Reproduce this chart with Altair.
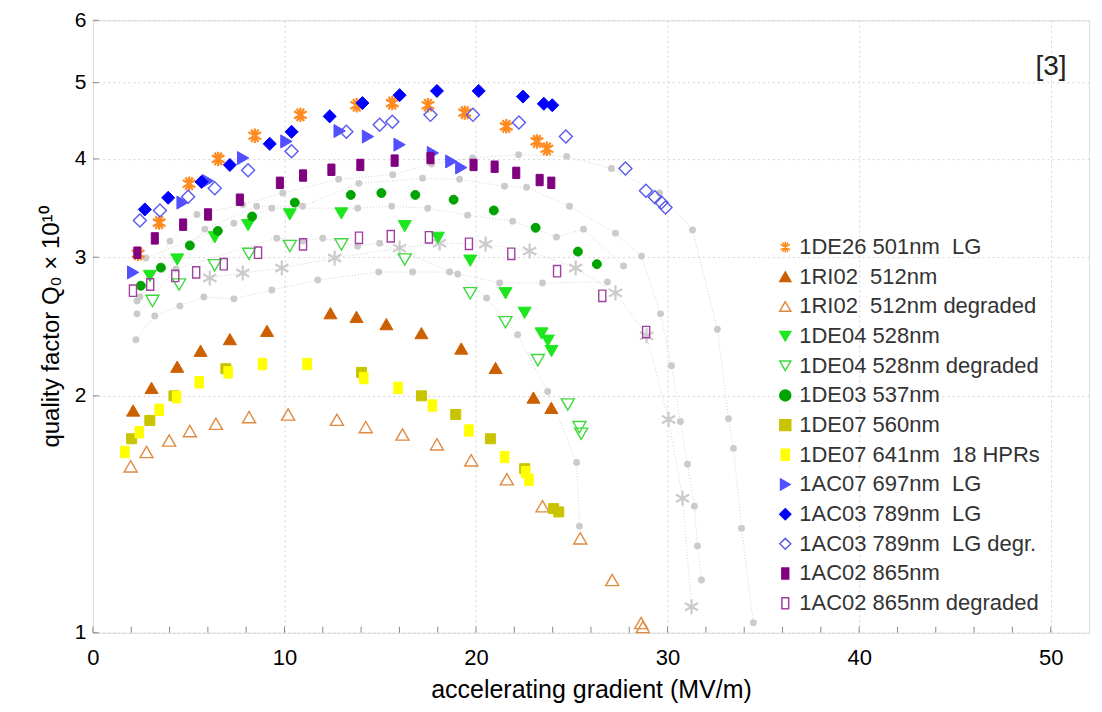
import altair as alt
import pandas as pd

NB = "\u00a0"
# ---------------- data ----------------
series_names = [
    "1DE26 501nm " + NB + "LG",
    "1RI02 " + NB + "512nm",
    "1RI02 " + NB + "512nm degraded",
    "1DE04 528nm",
    "1DE04 528nm degraded",
    "1DE03 537nm",
    "1DE07 560nm",
    "1DE07 641nm " + NB + "18 HPRs",
    "1AC07 697nm " + NB + "LG",
    "1AC03 789nm " + NB + "LG",
    "1AC03 789nm " + NB + "LG degr.",
    "1AC02 865nm",
    "1AC02 865nm degraded",
]

de26_x = [2.36, 3.46, 5.02, 6.54, 8.45, 10.83, 13.77, 15.63, 17.49, 19.41, 21.58, 23.18, 23.70]
de26_y = [3.03, 3.32, 3.72, 4.00, 4.28, 4.55, 4.68, 4.71, 4.68, 4.58, 4.40, 4.21, 4.12]

ri02_x = [2.10, 3.06, 4.40, 5.62, 7.15, 9.09, 12.40, 13.76, 15.32, 17.15, 19.23, 21.02, 23.00, 23.93]
ri02_y = [1.916, 2.047, 2.178, 2.282, 2.361, 2.419, 2.547, 2.52, 2.467, 2.403, 2.297, 2.170, 1.99, 1.931]

ri02d_x = [1.97, 2.80, 3.98, 5.06, 6.42, 8.15, 10.19, 12.74, 14.24, 16.16, 17.96, 19.75, 21.61, 23.47, 25.44, 27.11, 28.62, 28.71]
ri02d_y = [1.627, 1.697, 1.755, 1.804, 1.843, 1.879, 1.894, 1.865, 1.825, 1.786, 1.735, 1.656, 1.567, 1.448, 1.318, 1.167, 1.029, 1.017]

de04_x = [2.97, 4.40, 6.36, 8.10, 10.28, 12.97, 16.28, 18.01, 19.70, 21.54, 22.54, 23.42, 23.75, 23.94]
de04_y = [2.84, 2.98, 3.18, 3.295, 3.40, 3.41, 3.285, 3.175, 2.97, 2.70, 2.55, 2.40, 2.35, 2.28]

de04d_x = [3.11, 4.50, 6.36, 8.15, 10.28, 12.97, 16.28, 19.70, 21.54, 23.23, 24.79, 25.40, 25.49]
de04d_y = [2.64, 2.77, 2.93, 3.03, 3.10, 3.115, 2.98, 2.70, 2.48, 2.22, 1.95, 1.825, 1.79]

de03_x = [2.50, 3.55, 5.06, 6.52, 8.31, 10.54, 13.46, 15.06, 16.83, 18.83, 20.93, 23.11, 25.32, 26.31]
de03_y = [2.76, 2.91, 3.105, 3.24, 3.38, 3.52, 3.60, 3.62, 3.60, 3.55, 3.44, 3.27, 3.05, 2.94]

de07a_x = [2.02, 2.97, 4.23, 6.94, 14.02, 17.15, 18.94, 20.75, 22.54, 24.05, 24.32]
de07a_y = [1.764, 1.861, 2.00, 2.165, 2.142, 2.00, 1.894, 1.764, 1.616, 1.438, 1.424]

de07b_x = [1.67, 2.42, 3.46, 4.37, 5.55, 7.06, 8.85, 11.18, 14.14, 15.93, 17.72, 19.63, 21.49, 22.59, 22.76]
de07b_y = [1.697, 1.798, 1.920, 1.992, 2.081, 2.142, 2.195, 2.195, 2.107, 2.047, 1.944, 1.807, 1.672, 1.600, 1.565]

ac07_x = [2.10, 4.68, 6.01, 7.84, 10.10, 12.88, 14.36, 16.01, 17.75, 18.71, 19.23]
ac07_y = [2.87, 3.52, 3.75, 4.01, 4.21, 4.34, 4.27, 4.17, 4.07, 3.97, 3.90]

ac03_x = [2.71, 3.93, 5.67, 7.15, 9.23, 10.37, 12.36, 14.07, 16.01, 17.96, 20.14, 22.45, 23.54, 23.98]
ac03_y = [3.45, 3.57, 3.74, 3.93, 4.18, 4.33, 4.53, 4.71, 4.82, 4.88, 4.88, 4.80, 4.70, 4.68]

ac03d_x = [2.45, 3.50, 4.97, 6.36, 8.10, 10.37, 13.23, 14.97, 15.63, 17.62, 19.84, 22.24, 24.69, 27.80, 28.87, 29.34, 29.68, 29.89]
ac03d_y = [3.34, 3.44, 3.58, 3.67, 3.87, 4.09, 4.33, 4.42, 4.46, 4.55, 4.55, 4.45, 4.27, 3.89, 3.645, 3.575, 3.52, 3.47]

ac02_x = [2.32, 3.23, 4.71, 6.01, 7.67, 9.76, 10.97, 12.45, 13.96, 15.75, 17.62, 19.87, 20.97, 22.10, 23.32, 23.93]
ac02_y = [3.04, 3.17, 3.30, 3.40, 3.55, 3.73, 3.81, 3.875, 3.93, 3.98, 4.01, 3.93, 3.91, 3.84, 3.76, 3.73]

ac02d_x = [2.09, 2.99, 4.30, 5.39, 6.83, 8.62, 10.97, 13.89, 15.55, 17.54, 19.63, 21.84, 24.23, 26.59, 28.88]
ac02d_y = [2.72, 2.77, 2.84, 2.87, 2.94, 3.04, 3.115, 3.175, 3.19, 3.18, 3.12, 3.03, 2.88, 2.68, 2.41]

# background (grey) cavities
grayA_x = [2.30, 4.02, 5.43, 7.82, 9.91, 12.83, 15.65, 17.68, 19.82, 22.22, 24.73, 27.07, 29.58, 31.30, 32.60, 33.18, 33.44, 33.86, 34.48]
grayA_y = [2.64, 3.145, 3.40, 3.50, 3.62, 3.77, 3.82, 3.94, 4.01, 4.05, 4.03, 3.89, 3.62, 3.25, 2.43, 1.87, 1.715, 1.358, 1.03]

grayP_x = [2.45, 5.84, 8.55, 10.95, 13.88, 17.21, 19.14, 21.49, 22.64, 24.88, 27.28, 28.64, 29.63, 30.20, 30.67, 31.04, 31.40, 31.56, 31.77]
grayP_y = [2.671, 3.257, 3.483, 3.483, 3.724, 3.779, 3.768, 3.692, 3.681, 3.483, 3.219, 3.010, 2.542, 2.184, 1.855, 1.637, 1.448, 1.289, 1.167]

grayQ_x = [2.76, 7.36, 9.34, 13.82, 15.60, 17.48, 19.56, 21.91, 24.20, 25.61, 27.70]
grayQ_y = [2.993, 3.314, 3.463, 3.463, 3.483, 3.463, 3.393, 3.334, 3.182, 3.257, 2.924]

grayR_x = [2.30, 4.33, 9.60, 10.95, 12.00, 13.82, 14.97, 19.04, 20.55, 22.17, 23.74, 25.25, 25.40]
grayR_y = [2.542, 2.898, 3.172, 3.145, 3.172, 3.099, 3.126, 2.856, 2.663, 2.391, 2.025, 1.646, 1.366]

grayC_x = [2.24, 3.23, 4.54, 5.79, 7.36, 9.34, 11.74, 14.92, 16.69, 18.62, 21.23, 23.47, 26.86]
grayC_y = [2.356, 2.527, 2.602, 2.671, 2.656, 2.726, 2.807, 2.873, 2.873, 2.873, 2.782, 2.782, 2.791]

grayS_x = [6.10, 7.82, 9.86, 12.62, 16.01, 18.10, 20.50, 22.80, 25.20, 27.28, 28.90, 30.05, 30.78, 31.25]
grayS_y = [2.823, 2.865, 2.907, 2.993, 3.081, 3.126, 3.117, 3.055, 2.907, 2.703, 2.384, 1.866, 1.482, 1.079]

x_ticks_major = [0, 10, 20, 30, 40, 50]
x_ticks_minor = [2, 4, 6, 8, 12, 14, 16, 18, 22, 24, 26, 28, 32, 34, 36, 38, 42, 44, 46, 48]
y_ticks = [1, 2, 3, 4, 5, 6]

# ---------------- styling ----------------
ASTER = "M0,-1L0,1M-0.87,-0.5L0.87,0.5M-0.87,0.5L0.87,-0.5M-0.5,-0.87L0.5,0.87M-0.5,0.87L0.5,-0.87"
GSTAR = "M0,-1L0,1M-0.87,-0.5L0.87,0.5M-0.87,0.5L0.87,-0.5"
TALLRECT = "M-0.62,-1H0.62V1H-0.62Z"
YRECT = "M-0.75,-1H0.75V1H-0.75Z"

shapes = [ASTER, "triangle-up", "triangle-up", "triangle-down", "triangle-down", "circle",
          "square", YRECT, "triangle-right", "diamond", "diamond", TALLRECT, TALLRECT]
strokes = ["#ff8a1e", "#cc6000", "#e08a40", "#1ee61e", "#3fd83f", "#00a400", "#c8c400",
           "#ffff00", "#5050ff", "#0000ff", "#5a5aee", "#800080", "#a040a0"]
fills = ["#ff8a1e", "#cc6000", "transparent", "#1ee61e", "transparent", "#00a400", "#c8c400",
         "#ffff00", "#5050ff", "#0000ff", "transparent", "#800080", "transparent"]
sizes = [210, 170, 170, 170, 170, 80, 100, 130, 170, 170, 170, 130, 130]
swidths = [2.2, 1, 1.4, 1, 1.4, 1, 1, 1, 1, 1, 1.4, 1, 1.4]

xs = [de26_x, ri02_x, ri02d_x, de04_x, de04d_x, de03_x, de07a_x, de07b_x, ac07_x, ac03_x, ac03d_x, ac02_x, ac02d_x]
ys = [de26_y, ri02_y, ri02d_y, de04_y, de04d_y, de03_y, de07a_y, de07b_y, ac07_y, ac03_y, ac03d_y, ac02_y, ac02d_y]

rows = []
for i, (name, xv, yv) in enumerate(zip(series_names, xs, ys)):
    for a, b in zip(xv, yv):
        rows.append({"series": name, "idx": i, "E": a, "Q": b, "sz": sizes[i], "sw": swidths[i]})
df = pd.DataFrame(rows)

grows = []
for cname, xv, yv in [("A", grayA_x, grayA_y), ("P", grayP_x, grayP_y), ("Q", grayQ_x, grayQ_y),
                      ("R", grayR_x, grayR_y), ("C", grayC_x, grayC_y), ("S", grayS_x, grayS_y)]:
    for a, b in zip(xv, yv):
        grows.append({"curve": cname, "E": a, "Q": b})
gdf = pd.DataFrame(grows)

FONT = "Liberation Sans"
xscale = alt.Scale(domain=[0, 52], nice=False, zero=False)
yscale = alt.Scale(type="log", domain=[1, 6], nice=False)

X = alt.X("E:Q", scale=xscale,
          axis=alt.Axis(values=x_ticks_major, title="accelerating gradient (MV/m)", grid=True,
                        gridDash=[2, 3], gridColor="#d4d4d4", ticks=False, domain=False,
                        labelFontSize=22, labelPadding=15, titleFontSize=25, titlePadding=9,
                        titleFontWeight="normal", labelFlush=False))
Y = alt.Y("Q:Q", scale=yscale,
          axis=alt.Axis(values=y_ticks, title="quality factor Q₀ × 10¹⁰", grid=True,
                        gridDash=[2, 3], gridColor="#d4d4d4", ticks=False, domain=False,
                        labelFontSize=21, labelPadding=7, titleFontSize=24, titlePadding=11,
                        titleFontWeight="normal", format="~g", labelFlush=False))

gray_lines = alt.Chart(gdf).mark_line(strokeDash=[1, 2], color="#d2d2d2", strokeWidth=1).encode(
    x=X, y=Y, detail="curve:N", order="E:Q")
gray_dots = alt.Chart(gdf).transform_filter(alt.datum.curve != "S").mark_point(
    shape="circle", filled=True, size=48, color="#cbcbcb", opacity=1).encode(x="E:Q", y="Q:Q")
gray_stars = alt.Chart(gdf).transform_filter(alt.datum.curve == "S").mark_point(
    shape=GSTAR, filled=False, size=230, color="#cbcbcb", strokeWidth=2.2, opacity=1).encode(x="E:Q", y="Q:Q")

minor_df = pd.DataFrame({"E": x_ticks_minor + x_ticks_major})
xminor = alt.Chart(minor_df).mark_rule(color="#888888", strokeWidth=1).encode(
    x="E:Q", y=alt.value(613), y2=alt.value(607))
yminor_df = pd.DataFrame({"Q": y_ticks})
yminor = alt.Chart(yminor_df).mark_rule(color="#888888", strokeWidth=1).encode(
    y="Q:Q", x=alt.value(0), x2=alt.value(6))

leg = alt.Legend(title=None, orient="none", legendX=682, legendY=216,
                 labelFontSize=22, labelFont=FONT, labelColor="#333333",
                 symbolSize=120, rowPadding=7.7, labelOffset=3,
                 symbolStrokeWidth=1.5, labelLimit=400)

main = alt.Chart(df).mark_point(filled=True, opacity=1).encode(
    x="E:Q", y="Q:Q",
    shape=alt.Shape("series:N", scale=alt.Scale(domain=series_names, range=shapes), legend=leg),
    stroke=alt.Stroke("series:N", scale=alt.Scale(domain=series_names, range=strokes), legend=leg),
    fill=alt.Fill("series:N", scale=alt.Scale(domain=series_names, range=fills), legend=leg),
    size=alt.Size("sz:Q", scale=None),
    strokeWidth=alt.StrokeWidth("sw:Q", scale=None),
    order=alt.Order("idx:Q"),
)

ref_text = alt.Chart(pd.DataFrame({"t": ["[3]"]})).mark_text(
    font=FONT, fontSize=28, color="#222222", align="center", baseline="middle").encode(
    text="t:N", x=alt.value(959), y=alt.value(47))

chart = alt.layer(gray_lines, gray_dots, gray_stars, xminor, yminor, main, ref_text).properties(
    width=997, height=613,
    padding={"left": 85, "top": 12, "right": 5, "bottom": 78},
    autosize=alt.AutoSizeParams(type="none"),
).configure_view(stroke="#8a8a8a", strokeWidth=1.2).configure_axis(
    labelFont=FONT, titleFont=FONT, labelColor="#222222", titleColor="#333333"
).configure(background="white")

chart.save("out.html", embed_options={"renderer": "svg", "actions": False})
